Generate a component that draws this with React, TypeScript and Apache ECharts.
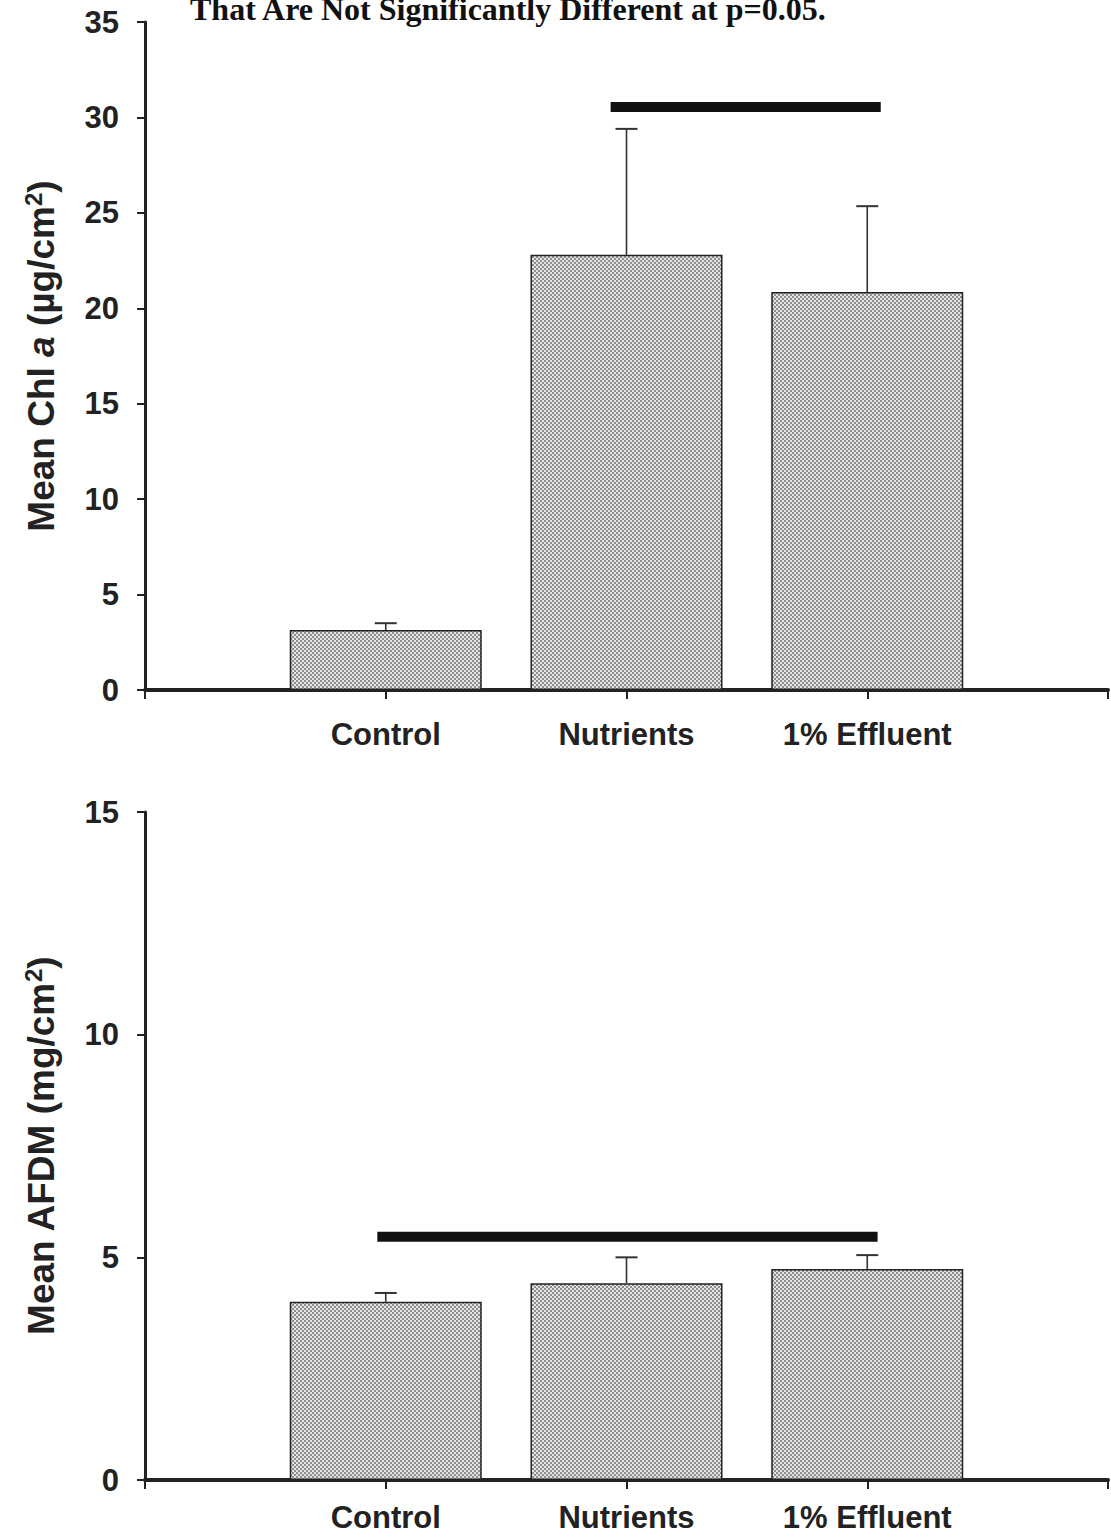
import React, { useEffect, useRef } from "react";
import * as echarts from "echarts";

const categories = ["", "Control", "Nutrients", "1% Effluent", ""];
const chlMeans = [3.14, 22.8, 20.85];
const chlUpper = [3.5, 29.4, 25.35];
const afdmMeans = [4.0, 4.42, 4.74];
const afdmUpper = [4.2, 5.0, 5.05];
// significance lines: [xStart, xEnd, y] in axis units
const chlSig = [[1.934, 3.056, 30.55]];
const afdmSig = [[0.965, 3.043, 5.46]];
const chlTicks = { min: 0, max: 35, interval: 5 };
const afdmTicks = { min: 0, max: 15, interval: 5 };
const titleText = "That Are Not Significantly Different at p=0.05.";

function makePattern(): any {
  const c = document.createElement("canvas");
  c.width = 4;
  c.height = 4;
  const ctx = c.getContext("2d");
  if (!ctx) return "#c2c2c2";
  ctx.fillStyle = "#e4e4e4";
  ctx.fillRect(0, 0, 4, 4);
  ctx.fillStyle = "#8e8e8e";
  ctx.fillRect(0, 0, 2, 2);
  ctx.fillRect(2, 2, 2, 2);
  return { image: c, repeat: "repeat" };
}

export default function App() {
  const ref = useRef<HTMLDivElement>(null);
  useEffect(() => {
    if (!ref.current) return;
    const chart = echarts.init(ref.current, undefined, { renderer: "svg" });
    const fill = makePattern();
    const axisColor = "#222";
    const labelFont = { fontFamily: "Liberation Sans, Arial, sans-serif", fontWeight: "bold" as const };

    const xAxisBase = (gridIndex: number, margin: number) => ({
      type: "value",
      gridIndex,
      min: 0,
      max: 4,
      interval: 1,
      splitLine: { show: false },
      axisLine: { show: true, lineStyle: { color: axisColor, width: 4 } },
      axisTick: { show: true, length: 9, lineStyle: { color: axisColor, width: 2 } },
      axisLabel: {
        ...labelFont,
        fontSize: 31,
        color: "#222",
        margin,
        formatter: (v: number) => categories[Math.round(v)] || "",
      },
    });

    const yAxisBase = (gridIndex: number, t: any, nameRich: string) => ({
      type: "value",
      gridIndex,
      min: t.min,
      max: t.max,
      interval: t.interval,
      splitLine: { show: false },
      axisLine: { show: true, lineStyle: { color: axisColor, width: 3 } },
      axisTick: { show: true, length: 8, lineStyle: { color: axisColor, width: 2 } },
      axisLabel: { ...labelFont, fontSize: 31, color: "#222", margin: 26 },
      name: nameRich,
      nameLocation: "middle",
      nameGap: 84,
      nameRotate: 90,
      nameTextStyle: {
        ...labelFont,
        color: "#222",
        fontSize: 37,
        rich: {
          b: { ...labelFont, fontSize: 37, color: "#222" },
          i: { ...labelFont, fontStyle: "italic", fontSize: 37, color: "#222" },
          s: { ...labelFont, fontSize: 24, color: "#222", verticalAlign: "top", padding: [0, 0, 16, 0] },
        },
      },
    });

    const barSeries = (idx: number, means: number[]) => ({
      type: "bar",
      xAxisIndex: idx,
      yAxisIndex: idx,
      barWidth: 192,
      data: means.map((m, i) => [i + 1, m]),
      itemStyle: { color: fill, borderColor: "#222", borderWidth: 1.5 },
      z: 2,
    });

    const errSeries = (idx: number, means: number[], upper: number[]) => ({
      type: "custom",
      xAxisIndex: idx,
      yAxisIndex: idx,
      data: means.map((m, i) => [i + 1, m, upper[i]]),
      z: 3,
      renderItem: (params: any, api: any) => {
        const x = api.value(0);
        const p0 = api.coord([x, api.value(1)]);
        const p1 = api.coord([x, api.value(2)]);
        const hw = 11;
        return {
          type: "group",
          children: [
            { type: "line", shape: { x1: p0[0], y1: p0[1], x2: p1[0], y2: p1[1] }, style: { stroke: "#333", lineWidth: 1.6 } },
            { type: "line", shape: { x1: p1[0] - hw, y1: p1[1], x2: p1[0] + hw, y2: p1[1] }, style: { stroke: "#333", lineWidth: 2 } },
          ],
        };
      },
    });

    const sigSeries = (idx: number, segs: number[][]) => ({
      type: "custom",
      xAxisIndex: idx,
      yAxisIndex: idx,
      data: segs,
      z: 4,
      renderItem: (params: any, api: any) => {
        const a = api.coord([api.value(0), api.value(2)]);
        const b = api.coord([api.value(1), api.value(2)]);
        return {
          type: "line",
          shape: { x1: a[0], y1: a[1], x2: b[0], y2: b[1] },
          style: { stroke: "#111", lineWidth: 10 },
        };
      },
    });

    chart.setOption({
      animation: false,
      backgroundColor: "#fff",
      grid: [
        { left: 145, right: 0, top: 22, height: 668 },
        { left: 145, right: 0, top: 812, height: 668 },
      ],
      xAxis: [xAxisBase(0, 29), xAxisBase(1, 22)],
      yAxis: [
        yAxisBase(0, chlTicks, "{b|Mean Chl }{i|a}{b| (µg/cm}{s|2}{b|)}"),
        yAxisBase(1, afdmTicks, "{b|Mean AFDM (mg/cm}{s|2}{b|)}"),
      ],
      graphic: [
        {
          type: "text",
          left: 190,
          top: -7,
          style: {
            text: titleText,
            font: "bold 32px 'Liberation Serif', 'Times New Roman', serif",
            fill: "#111",
          },
        },
      ],
      series: [
        barSeries(0, chlMeans),
        errSeries(0, chlMeans, chlUpper),
        sigSeries(0, chlSig),
        barSeries(1, afdmMeans),
        errSeries(1, afdmMeans, afdmUpper),
        sigSeries(1, afdmSig),
      ],
    });
    return () => chart.dispose();
  }, []);
  return (
    <div
      ref={ref}
      style={{ position: "absolute", left: 0, top: 0, width: 1111, height: 1538, background: "#fff" }}
    />
  );
}
